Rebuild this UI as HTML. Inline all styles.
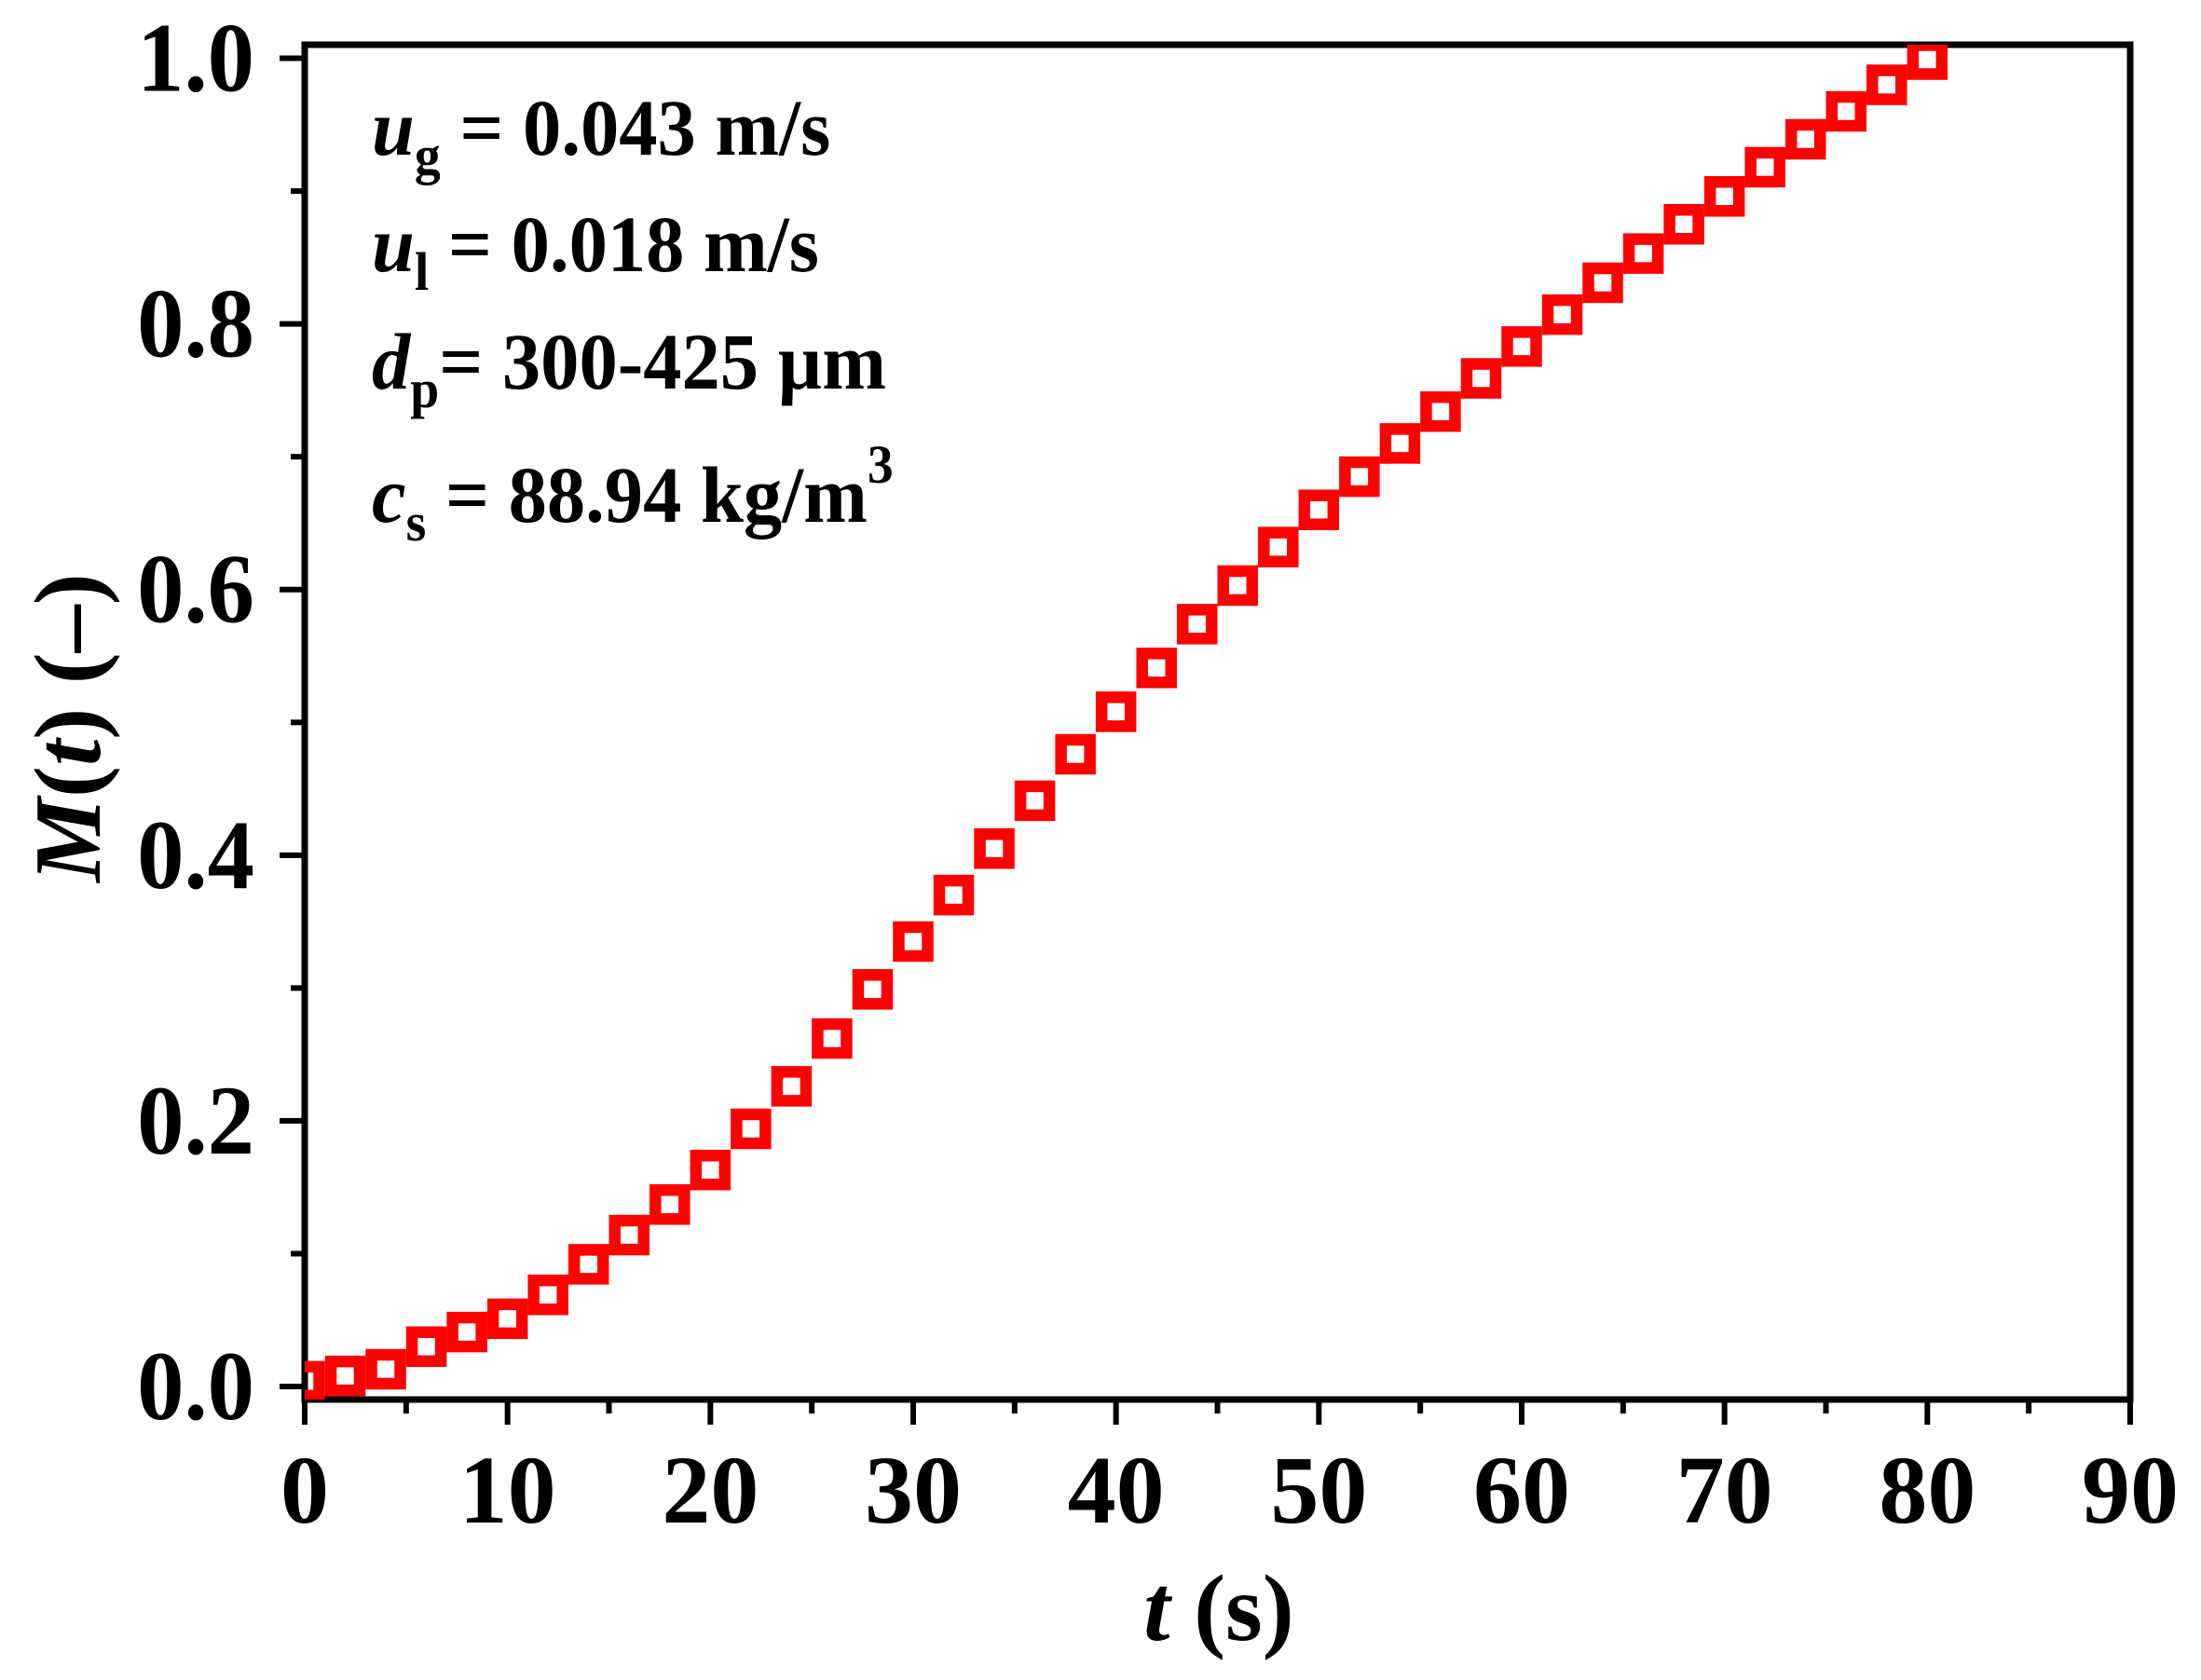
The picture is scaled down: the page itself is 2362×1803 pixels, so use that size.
<!DOCTYPE html>
<html><head><meta charset="utf-8"><style>
html,body{margin:0;padding:0;background:#fff;}
svg{display:block;}
text{font-family:"Liberation Serif","Times New Roman",serif;font-weight:bold;fill:#000;}
</style></head><body>
<svg id="chart" width="2362" height="1803" viewBox="0 0 2362 1803" xmlns="http://www.w3.org/2000/svg">
<defs><clipPath id="plotclip"><rect x="327" y="48" width="1961" height="1454"/></clipPath></defs>
<g id="annot" font-size="86">
<text x="399" y="166" transform="translate(399,0) scale(0.96,1) translate(-399,0)"><tspan font-style="italic">u</tspan><tspan font-size="58" dy="20">g</tspan><tspan dy="-20"> = 0.043 m/s</tspan></text>
<text x="399" y="291" transform="translate(399,0) scale(0.96,1) translate(-399,0)"><tspan font-style="italic">u</tspan><tspan font-size="58" dy="20">l</tspan><tspan dy="-20"> = 0.018 m/s</tspan></text>
<text x="399" y="417" transform="translate(399,0) scale(0.96,1) translate(-399,0)"><tspan font-style="italic">d</tspan><tspan font-size="58" dy="20">p</tspan><tspan dy="-20">= 300-425 µm</tspan></text>
<text x="399" y="560" transform="translate(399,0) scale(0.96,1) translate(-399,0)"><tspan font-style="italic">c</tspan><tspan font-size="58" dy="20">s</tspan><tspan dy="-20"> = 88.94 kg/m</tspan><tspan font-size="58" dy="-42">3</tspan></text>
</g>
<g id="axes"></g>
<g id="marks" clip-path="url(#plotclip)"></g>
<text x="1308" y="1760" font-size="102" text-anchor="middle"><tspan font-style="italic">t</tspan> (s)</text>
<text transform="translate(107,781) rotate(-90)" font-size="102" text-anchor="middle"><tspan font-style="italic">M</tspan>(<tspan font-style="italic">t</tspan>) (–)</text>
</svg>
<script>
const times = [0,2,4,6,8,10,12,14,16,18,20,22,24,26,28,30,32,34,36,38,40,42,44,46,48,50,52,54,56,58,60,62,64,66,68,70,72,74,76,78,80];
const mValues = [0.004,0.008,0.013,0.030,0.041,0.051,0.069,0.092,0.114,0.137,0.163,0.194,0.226,0.262,0.299,0.335,0.370,0.405,0.441,0.476,0.508,0.541,0.574,0.603,0.632,0.660,0.685,0.710,0.734,0.759,0.783,0.807,0.831,0.853,0.875,0.896,0.918,0.939,0.960,0.980,0.999];
const xTickLabels = ['0','10','20','30','40','50','60','70','80','90'];
const yTickLabels = ['0.0','0.2','0.4','0.6','0.8','1.0'];
const XMIN=0,XMAX=90,YMIN=-0.0098,YMAX=1.0102;
const L=327,R=2286,T=48,B=1502;
const xs=v=>L+(v-XMIN)/(XMAX-XMIN)*(R-L);
const ys=v=>B-(v-YMIN)/(YMAX-YMIN)*(B-T);
const NS='http://www.w3.org/2000/svg';
function mk(tag,attrs,parent){const e=document.createElementNS(NS,tag);for(const k in attrs)e.setAttribute(k,attrs[k]);parent.appendChild(e);return e;}
const axes=document.getElementById('axes');
const marks=document.getElementById('marks');
const frame=mk('rect',{x:L,y:T,width:R-L,height:B-T,fill:'none',stroke:'#000','stroke-width':7},axes);


xTickLabels.forEach((lab,i)=>{
  const v=parseFloat(lab);const x=xs(v);
  const t=mk('line',{x1:x,x2:x,y1:B,y2:B+27,stroke:'#000','stroke-width':6},axes);
  
  
  const tx=mk('text',{x:x,y:1634,'font-size':104,'text-anchor':'middle'},axes);
  tx.textContent=lab;
  
  
  if(i<xTickLabels.length-1){
    const xm=xs(v+5);
    const m=mk('line',{x1:xm,x2:xm,y1:B,y2:B+15,stroke:'#000','stroke-width':6},axes);
    
    
  }
});
yTickLabels.forEach((lab,i)=>{
  const v=parseFloat(lab);const y=ys(v);
  const t=mk('line',{x1:L-27,x2:L,y1:y,y2:y,stroke:'#000','stroke-width':6},axes);
  
  
  const tx=mk('text',{x:273,y:y+35,'font-size':106,'text-anchor':'end',transform:'translate(273,0) scale(0.95,1) translate(-273,0)'},axes);
  tx.textContent=lab;
  
  
  if(i<yTickLabels.length-1){
    const ym=ys(v+0.1);
    const m=mk('line',{x1:L-15,x2:L,y1:ym,y2:ym,stroke:'#000','stroke-width':6},axes);
    
    
  }
});
times.forEach((t,i)=>{
  const cx=xs(t),cy=ys(mValues[i]);
  const r=mk('rect',{x:cx-15.5,y:cy-15.5,width:31,height:31,fill:'none',stroke:'#ff0000','stroke-width':12.5},marks);
  
  
});
</script>
</body></html>
